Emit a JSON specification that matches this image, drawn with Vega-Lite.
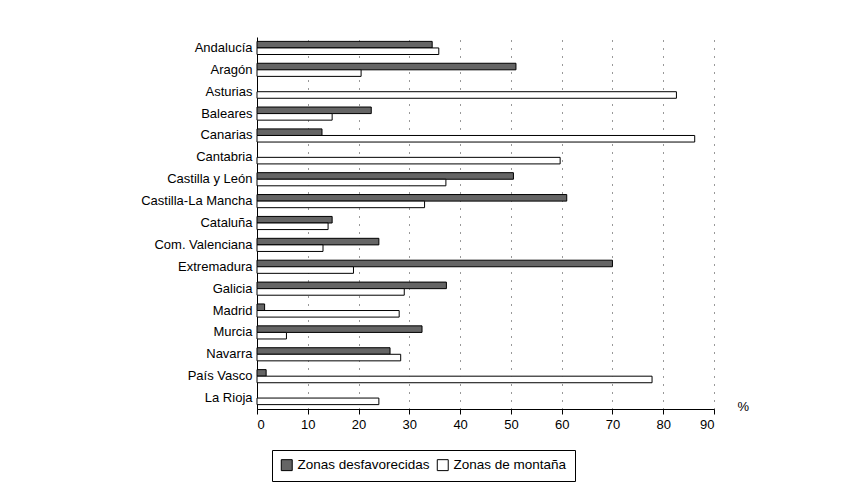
{
  "$schema": "https://vega.github.io/schema/vega-lite/v6.json",
  "autosize": {"type": "none"},
  "padding": {"left": 257, "top": 37, "right": 128, "bottom": 95},
  "width": 457,
  "height": 372,
  "background": "white",
  "config": {
    "font": "Liberation Sans",
    "view": {"stroke": null},
    "axis": {"labelColor": "black", "labelFont": "Liberation Sans", "labelFontSize": 13, "titleFont": "Liberation Sans"}
  },
  "data": {
    "values": [
      {"region": "Andalucía", "zona": "Zonas desfavorecidas", "value": 34.5},
      {"region": "Andalucía", "zona": "Zonas de montaña", "value": 35.8},
      {"region": "Aragón", "zona": "Zonas desfavorecidas", "value": 51.0},
      {"region": "Aragón", "zona": "Zonas de montaña", "value": 20.5},
      {"region": "Asturias", "zona": "Zonas desfavorecidas", "value": 0},
      {"region": "Asturias", "zona": "Zonas de montaña", "value": 82.6},
      {"region": "Baleares", "zona": "Zonas desfavorecidas", "value": 22.5},
      {"region": "Baleares", "zona": "Zonas de montaña", "value": 14.8},
      {"region": "Canarias", "zona": "Zonas desfavorecidas", "value": 12.8},
      {"region": "Canarias", "zona": "Zonas de montaña", "value": 86.2},
      {"region": "Cantabria", "zona": "Zonas desfavorecidas", "value": 0},
      {"region": "Cantabria", "zona": "Zonas de montaña", "value": 59.7},
      {"region": "Castilla y León", "zona": "Zonas desfavorecidas", "value": 50.5},
      {"region": "Castilla y León", "zona": "Zonas de montaña", "value": 37.2},
      {"region": "Castilla-La Mancha", "zona": "Zonas desfavorecidas", "value": 61.0},
      {"region": "Castilla-La Mancha", "zona": "Zonas de montaña", "value": 33.0},
      {"region": "Cataluña", "zona": "Zonas desfavorecidas", "value": 14.8},
      {"region": "Cataluña", "zona": "Zonas de montaña", "value": 14.0},
      {"region": "Com. Valenciana", "zona": "Zonas desfavorecidas", "value": 24.0},
      {"region": "Com. Valenciana", "zona": "Zonas de montaña", "value": 13.0},
      {"region": "Extremadura", "zona": "Zonas desfavorecidas", "value": 70.0},
      {"region": "Extremadura", "zona": "Zonas de montaña", "value": 19.0},
      {"region": "Galicia", "zona": "Zonas desfavorecidas", "value": 37.3},
      {"region": "Galicia", "zona": "Zonas de montaña", "value": 29.0},
      {"region": "Madrid", "zona": "Zonas desfavorecidas", "value": 1.5},
      {"region": "Madrid", "zona": "Zonas de montaña", "value": 28.0},
      {"region": "Murcia", "zona": "Zonas desfavorecidas", "value": 32.5},
      {"region": "Murcia", "zona": "Zonas de montaña", "value": 5.8},
      {"region": "Navarra", "zona": "Zonas desfavorecidas", "value": 26.2},
      {"region": "Navarra", "zona": "Zonas de montaña", "value": 28.3},
      {"region": "País Vasco", "zona": "Zonas desfavorecidas", "value": 1.8},
      {"region": "País Vasco", "zona": "Zonas de montaña", "value": 77.8},
      {"region": "La Rioja", "zona": "Zonas desfavorecidas", "value": 0},
      {"region": "La Rioja", "zona": "Zonas de montaña", "value": 24.0}
    ]
  },
  "mark": {"type": "bar", "stroke": "black", "strokeWidth": 1},
  "encoding": {
    "y": {
      "field": "region",
      "type": "nominal",
      "sort": null,
      "scale": {"paddingInner": 0.4, "paddingOuter": 0.2},
      "axis": {"title": null, "domainColor": "black", "ticks": false, "labelPadding": 5, "grid": false}
    },
    "yOffset": {
      "field": "zona",
      "type": "nominal",
      "sort": ["Zonas desfavorecidas", "Zonas de montaña"]
    },
    "x": {
      "field": "value",
      "type": "quantitative",
      "scale": {"domain": [0, 90], "nice": false},
      "axis": {
        "values": [0, 10, 20, 30, 40, 50, 60, 70, 80, 90],
        "title": "%",
        "titleFontWeight": "normal",
        "titleFontSize": 13,
        "titleX": 480,
        "titleY": -3,
        "titleAlign": "left",
        "titleBaseline": "middle",
        "titleColor": "black",
        "domainColor": "black",
        "tickColor": "black",
        "tickSize": 5,
        "labelPadding": 4,
        "grid": true,
        "gridColor": "black",
        "gridDash": [1, 7],
        "gridOpacity": 0.8
      }
    },
    "strokeOpacity": {
      "condition": {"test": "datum.value > 0", "value": 1},
      "value": 0
    },
    "fill": {
      "field": "zona",
      "type": "nominal",
      "sort": ["Zonas desfavorecidas", "Zonas de montaña"],
      "scale": {"domain": ["Zonas desfavorecidas", "Zonas de montaña"], "range": ["#656565", "white"]},
      "legend": {
        "title": null,
        "orient": "none",
        "legendX": 15,
        "legendY": 413,
        "direction": "horizontal",
        "strokeColor": "black",
        "padding": 8,
        "symbolType": "square",
        "symbolSize": 120,
        "symbolStrokeColor": "black",
        "symbolStrokeWidth": 1,
        "symbolOpacity": 1,
        "labelFontSize": 13.5,
        "labelColor": "black",
        "labelFont": "Liberation Sans",
        "columnPadding": 5,
        "labelOffset": 4
      }
    }
  }
}
